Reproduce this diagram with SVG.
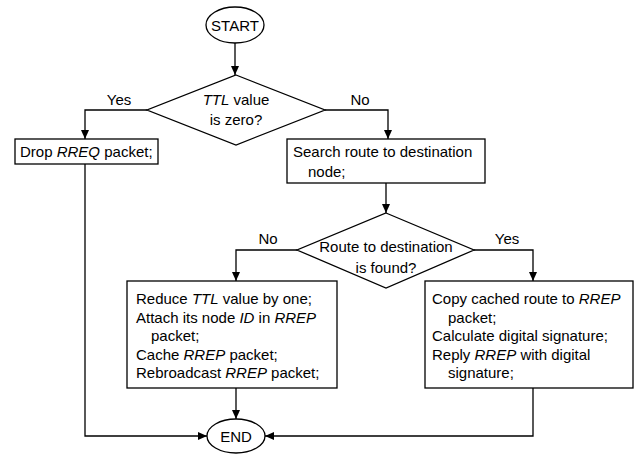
<svg xmlns="http://www.w3.org/2000/svg" width="636" height="456" viewBox="0 0 636 456">
<style>
.box{fill:#fff;stroke:#000;stroke-width:1.3}
.t{font-family:"Liberation Sans",Arial,sans-serif;font-size:15px;fill:#000}
.c{text-anchor:middle}
.i{font-style:italic}
.conn{fill:none;stroke:#000;stroke-width:1.3}
</style>
<defs>
<marker id="arr" viewBox="0 0 10 10" preserveAspectRatio="none" refX="10" refY="5" markerWidth="9" markerHeight="8" markerUnits="userSpaceOnUse" orient="auto">
<path d="M0,0 L10,5 L0,10 z" fill="#000"/>
</marker>
</defs>
<rect width="636" height="456" fill="#fff"/>
<g id="connectors">
<path class="conn" d="M235,43 V75" marker-end="url(#arr)"/>
<path class="conn" d="M147,110 H85 V139" marker-end="url(#arr)"/>
<path class="conn" d="M325,110 H388 V139" marker-end="url(#arr)"/>
<path class="conn" d="M386,183 V213" marker-end="url(#arr)"/>
<path class="conn" d="M297,250 H236 V281" marker-end="url(#arr)"/>
<path class="conn" d="M474,250 H533 V281" marker-end="url(#arr)"/>
<path class="conn" d="M236,388 V419" marker-end="url(#arr)"/>
<path class="conn" d="M85,164 V436 H207" marker-end="url(#arr)"/>
<path class="conn" d="M533,388 V436 H265" marker-end="url(#arr)"/>
<text class="t c" x="119" y="105">Yes</text>
<text class="t c" x="360" y="105">No</text>
<text class="t c" x="268" y="244">No</text>
<text class="t c" x="507" y="244">Yes</text>
</g>
<g id="start">
<ellipse class="box" cx="235" cy="25" rx="29" ry="18"/>
<text class="t c" x="235" y="31">START</text>
</g>
<g id="ttl-zero">
<polygon class="box" points="236,75 325,110 236,145 147,110"/>
<text class="t c" x="236" y="105"><tspan class="i">TTL</tspan> value</text>
<text class="t c" x="236" y="125">is zero?</text>
</g>
<g id="drop">
<rect class="box" x="15" y="139" width="143" height="25"/>
<text class="t" x="20" y="157">Drop <tspan class="i">RREQ</tspan> packet;</text>
</g>
<g id="search">
<rect class="box" x="287" y="139" width="198" height="44"/>
<text class="t" x="293" y="157">Search route to destination</text>
<text class="t" x="308" y="177">node;</text>
</g>
<g id="route-found">
<polygon class="box" points="386,213 474,250 386,288 297,250"/>
<text class="t c" x="386" y="252">Route to destination</text>
<text class="t c" x="386" y="273">is found?</text>
</g>
<g id="reduce">
<rect class="box" x="127" y="281" width="210" height="107"/>
<text class="t" x="136" y="304">Reduce <tspan class="i">TTL</tspan> value by one;</text>
<text class="t" x="136" y="322.5">Attach its node <tspan class="i">ID</tspan> in <tspan class="i">RREP</tspan></text>
<text class="t" x="151" y="341">packet;</text>
<text class="t" x="136" y="359.5">Cache <tspan class="i">RREP</tspan> packet;</text>
<text class="t" x="136" y="378">Rebroadcast <tspan class="i">RREP</tspan> packet;</text>
</g>
<g id="copy">
<rect class="box" x="425" y="281" width="208" height="107"/>
<text class="t" x="432" y="304">Copy cached route to <tspan class="i">RREP</tspan></text>
<text class="t" x="448" y="322.5">packet;</text>
<text class="t" x="432" y="341">Calculate digital signature;</text>
<text class="t" x="432" y="359.5">Reply <tspan class="i">RREP</tspan> with digital</text>
<text class="t" x="448" y="378">signature;</text>
</g>
<g id="end">
<ellipse class="box" cx="236" cy="436" rx="29" ry="17"/>
<text class="t c" x="236" y="441.5">END</text>
</g>
</svg>
